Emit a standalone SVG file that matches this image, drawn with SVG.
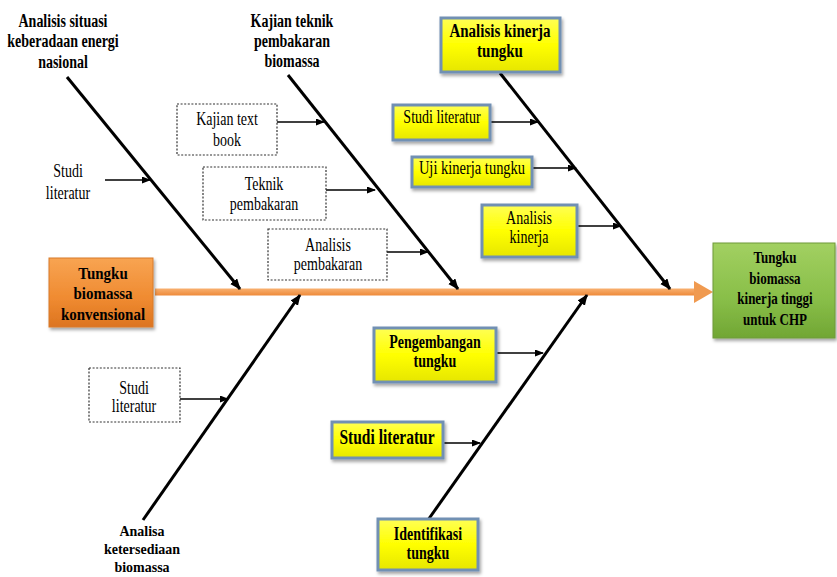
<svg xmlns="http://www.w3.org/2000/svg" width="837" height="577" viewBox="0 0 837 577">
<style>
text{font-family:"Liberation Serif","Times New Roman",serif;fill:#000;text-anchor:middle}
.b{font-weight:bold}
.r{font-size:14px}
.dot{fill:#fff;stroke:#333;stroke-width:1.2;stroke-dasharray:2 1.6}
.yel{fill:url(#gy);stroke:#7190b3;stroke-width:3;filter:url(#sh)}
.br{stroke:#000;stroke-width:3;fill:none;marker-end:url(#ab)}
.sm{stroke:#000;stroke-width:1.6;fill:none;marker-end:url(#as)}
</style>
<defs>
<linearGradient id="gy" x1="0" y1="0" x2="0" y2="1"><stop offset="0" stop-color="#ffff55"/><stop offset="0.5" stop-color="#ffff00"/><stop offset="1" stop-color="#e6e600"/></linearGradient>
<linearGradient id="go" x1="0" y1="0" x2="0" y2="1"><stop offset="0" stop-color="#f8a452"/><stop offset="0.6" stop-color="#ef8a30"/><stop offset="1" stop-color="#dc7420"/></linearGradient>
<linearGradient id="gg" x1="0" y1="0" x2="0" y2="1"><stop offset="0" stop-color="#a2d061"/><stop offset="0.6" stop-color="#88be48"/><stop offset="1" stop-color="#71a634"/></linearGradient>
<linearGradient id="gs" x1="0" y1="0" x2="0" y2="1"><stop offset="0" stop-color="#f8b070"/><stop offset="1" stop-color="#ee8a3a"/></linearGradient>
<filter id="sh" x="-10%" y="-10%" width="130%" height="140%"><feDropShadow dx="1.5" dy="2.5" stdDeviation="1.5" flood-color="#000" flood-opacity="0.35"/></filter>
<marker id="ab" markerUnits="userSpaceOnUse" markerWidth="12" markerHeight="10" refX="10" refY="4.5" orient="auto"><path d="M0,0 L11,4.5 L0,9 z" fill="#000"/></marker>
<marker id="as" markerUnits="userSpaceOnUse" markerWidth="10" markerHeight="8" refX="8" refY="3.5" orient="auto"><path d="M0,0 L9,3.5 L0,7 z" fill="#000"/></marker>
</defs>

<g id="connectors">
<rect x="155" y="288.5" width="541" height="7" fill="url(#gs)"/>
<polygon points="694,281 713,292 694,303" fill="#f09a50"/>
<line class="br" x1="67" y1="77" x2="240" y2="289"/>
<line class="br" x1="288" y1="75" x2="458" y2="289"/>
<line class="br" x1="500" y1="73" x2="670" y2="289"/>
<line class="br" x1="143" y1="520" x2="300" y2="295"/>
<line class="br" x1="428" y1="520" x2="587" y2="295"/>
<line class="sm" x1="105" y1="180" x2="150" y2="180"/>
<line class="sm" x1="277" y1="122" x2="324" y2="122"/>
<line class="sm" x1="326" y1="190" x2="375" y2="190"/>
<line class="sm" x1="387" y1="252" x2="428" y2="252"/>
<line class="sm" x1="490" y1="122" x2="538" y2="122"/>
<line class="sm" x1="532" y1="168" x2="576" y2="168"/>
<line class="sm" x1="577" y1="226" x2="621" y2="226"/>
<line class="sm" x1="180" y1="399" x2="228" y2="399"/>
<line class="sm" x1="496" y1="353" x2="543" y2="353"/>
<line class="sm" x1="443" y1="443" x2="480" y2="443"/>
</g>

<g id="n-start">
<rect x="49" y="258" width="104" height="69" fill="url(#go)" stroke="#d87a2a" stroke-width="1" filter="url(#sh)"/>
<text class="b" font-size="15" fill="#2b1a0a" transform="translate(103,279) scale(1,1.15)"><tspan x="0" y="0">Tungku</tspan><tspan x="0" y="17.5">biomassa</tspan><tspan x="0" y="35.5">konvensional</tspan></text>
</g>

<g id="n-end">
<rect x="713" y="243" width="122" height="95" fill="url(#gg)" stroke="#6f9a3a" stroke-width="1" filter="url(#sh)"/>
<text class="b" font-size="13" transform="translate(775,263) scale(1,1.3)"><tspan x="0" y="0">Tungku</tspan><tspan x="0" y="16.2">biomassa</tspan><tspan x="0" y="31.5">kinerja tinggi</tspan><tspan x="0" y="47.7">untuk CHP</tspan></text>
</g>

<g id="n-situasi">
<text class="b" font-size="14" transform="translate(63,27) scale(1,1.3)"><tspan x="0" y="0">Analisis situasi</tspan><tspan x="0" y="15.4">keberadaan energi</tspan><tspan x="0" y="31.2">nasional</tspan></text>
</g>
<g id="n-studi-tl">
<text class="r" transform="translate(68,177) scale(1,1.3)"><tspan x="0" y="0">Studi</tspan><tspan x="0" y="16.9">literatur</tspan></text>
</g>

<g id="n-kajian-teknik">
<text class="b" font-size="14" transform="translate(292,27) scale(1,1.3)"><tspan x="0" y="0">Kajian teknik</tspan><tspan x="0" y="15.4">pembakaran</tspan><tspan x="0" y="30.8">biomassa</tspan></text>
</g>
<g id="n-textbook">
<rect class="dot" x="177" y="104" width="100" height="51"/>
<text class="r" transform="translate(227,125) scale(1,1.3)"><tspan x="0" y="0">Kajian text</tspan><tspan x="0" y="16.2">book</tspan></text>
</g>
<g id="n-teknik">
<rect class="dot" x="203" y="167" width="123" height="53"/>
<text class="r" transform="translate(264,190) scale(1,1.3)"><tspan x="0" y="0">Teknik</tspan><tspan x="0" y="15.4">pembakaran</tspan></text>
</g>
<g id="n-analisis-pemb">
<rect class="dot" x="268" y="229" width="119" height="51"/>
<text class="r" transform="translate(328,251) scale(1,1.3)"><tspan x="0" y="0">Analisis</tspan><tspan x="0" y="15">pembakaran</tspan></text>
</g>

<g id="n-analisis-kinerja-tungku">
<rect class="yel" x="441" y="18" width="119" height="54"/>
<text class="b" font-size="15" transform="translate(500,37) scale(1,1.3)"><tspan x="0" y="0">Analisis kinerja</tspan><tspan x="0" y="15.2">tungku</tspan></text>
</g>
<g id="n-studi-tr">
<rect class="yel" x="393" y="105" width="97" height="35"/>
<text class="r" transform="translate(442,123) scale(1,1.3)">Studi literatur</text>
</g>
<g id="n-uji">
<rect class="yel" x="412" y="157" width="120" height="30"/>
<text font-size="14.5" transform="translate(472,174) scale(1,1.3)">Uji kinerja tungku</text>
</g>
<g id="n-analisis-kinerja">
<rect class="yel" x="482" y="205" width="95" height="52"/>
<text class="r" transform="translate(529,224) scale(1,1.3)"><tspan x="0" y="0">Analisis</tspan><tspan x="0" y="15">kinerja</tspan></text>
</g>

<g id="n-studi-bl">
<rect class="dot" x="89" y="368" width="91" height="54"/>
<text class="r" transform="translate(134,394) scale(1,1.3)"><tspan x="0" y="0">Studi</tspan><tspan x="0" y="14">literatur</tspan></text>
</g>
<g id="n-ketersediaan">
<text class="b" font-size="14" transform="translate(142,536) scale(1,1.1)"><tspan x="0" y="0">Analisa</tspan><tspan x="0" y="16.4">ketersediaan</tspan><tspan x="0" y="32.8">biomassa</tspan></text>
</g>

<g id="n-pengembangan">
<rect class="yel" x="374" y="328" width="122" height="54"/>
<text class="b" font-size="14" transform="translate(435,348) scale(1,1.3)"><tspan x="0" y="0">Pengembangan</tspan><tspan x="0" y="15">tungku</tspan></text>
</g>
<g id="n-studi-br">
<rect class="yel" x="332" y="422" width="111" height="36"/>
<text class="b" font-size="15.5" transform="translate(387,444) scale(1,1.3)">Studi literatur</text>
</g>
<g id="n-identifikasi">
<rect class="yel" x="378" y="519" width="100" height="51"/>
<text class="b" font-size="14" transform="translate(428,540) scale(1,1.3)"><tspan x="0" y="0">Identifikasi</tspan><tspan x="0" y="15">tungku</tspan></text>
</g>
</svg>
